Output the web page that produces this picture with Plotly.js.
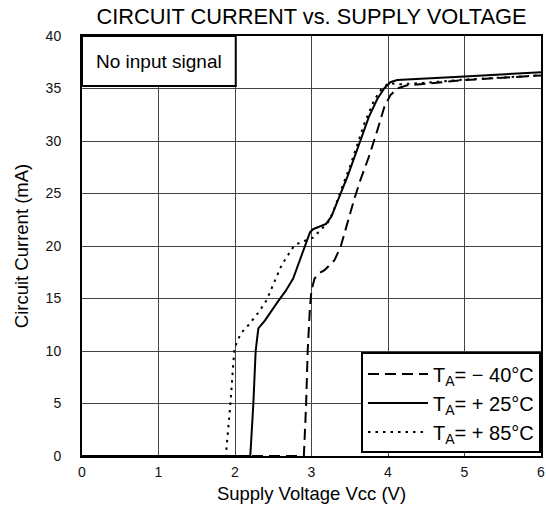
<!DOCTYPE html>
<html>
<head>
<meta charset="utf-8">
<script src="https://cdn.plot.ly/plotly-3.0.1.min.js"></script>
<style>html,body{margin:0;padding:0;background:#fff;}#chart{width:546px;height:510px;}</style>
</head>
<body>
<div id="chart"></div>
<script>
// Supply voltage (V) / circuit current (mA)
const vM40 = [0, 2.90, 2.93, 2.95, 2.98, 3.00, 3.04, 3.10, 3.17, 3.30, 3.38, 3.43, 3.49, 3.56, 3.64, 3.75, 3.86, 3.95, 4.03, 4.12, 4.25, 5.00, 6.00];
const iM40 = [0, 0, 5, 10, 14.2, 15.8, 16.9, 17.4, 17.7, 18.65, 19.9, 21.2, 22.8, 24.5, 26.3, 28.5, 31.0, 33.2, 34.35, 35.0, 35.3, 35.8, 36.25];

const vP25 = [0, 2.20, 2.24, 2.27, 2.305, 2.39, 2.56, 2.66, 2.76, 2.85, 2.93, 2.98, 3.02, 3.10, 3.19, 3.26, 3.32, 3.36, 3.43, 3.47, 3.58, 3.67, 3.75, 3.86, 3.95, 4.03, 4.12, 5.00, 6.00];
const iP25 = [0, 0, 5, 10, 12.15, 12.9, 14.7, 15.7, 16.9, 18.7, 20.3, 21.3, 21.6, 21.8, 22.1, 22.8, 23.9, 24.8, 25.9, 26.6, 28.8, 30.7, 32.3, 34.0, 35.0, 35.6, 35.8, 36.15, 36.55];

const vP85 = [0, 1.88, 1.94, 1.99, 2.02, 2.08, 2.18, 2.31, 2.41, 2.52, 2.61, 2.69, 2.78, 2.93, 3.02, 3.13, 3.22, 3.28, 3.34, 3.41, 3.50, 3.58, 3.69, 3.82, 3.92, 4.01, 4.15, 4.50, 5.00, 6.00];
const iP85 = [0, 0, 5, 10, 10.8, 11.7, 12.5, 13.7, 14.8, 16.6, 18.2, 19.1, 20.1, 20.55, 20.8, 21.6, 22.3, 23.2, 24.5, 25.8, 27.5, 29.3, 31.65, 33.9, 35.0, 35.5, 35.4, 35.55, 35.85, 36.25];

const seriesNames = ['T<sub>A</sub>= \u2212 40\u00b0C', 'T<sub>A</sub>= + 25\u00b0C', 'T<sub>A</sub>= + 85\u00b0C'];
const xTicks = [0, 1, 2, 3, 4, 5, 6];
const yTicks = [0, 5, 10, 15, 20, 25, 30, 35, 40];

const FONT = 'Liberation Sans, Arial, sans-serif';

const traces = [
  {x: vM40, y: iM40, name: seriesNames[0], mode: 'lines', line: {color: '#000', width: 2, dash: '11px,6px'}},
  {x: vP25, y: iP25, name: seriesNames[1], mode: 'lines', line: {color: '#000', width: 2}},
  {x: vP85, y: iP85, name: seriesNames[2], mode: 'lines', line: {color: '#000', width: 2, dash: '2.5px,5px'}}
];

const layout = {
  width: 546, height: 510,
  margin: {l: 82, r: 5, t: 35.5, b: 54, pad: 0},
  paper_bgcolor: '#fff', plot_bgcolor: '#fff',
  font: {family: FONT, color: '#000'},
  showlegend: true,
  title: {text: 'CIRCUIT CURRENT vs. SUPPLY VOLTAGE', font: {family: FONT, size: 21.8, color: '#000'},
          x: 0.5, xref: 'paper', y: 1 - 16/510, yref: 'container', yanchor: 'middle'},
  xaxis: {
    range: [0, 6], tickvals: xTicks, ticktext: xTicks.map(String),
    showgrid: true, gridcolor: '#444', gridwidth: 1,
    showline: true, linecolor: '#000', linewidth: 2, mirror: true,
    zeroline: false, ticks: '', ticklabelstandoff: 2, ticklabeloverflow: 'allow',
    tickfont: {family: FONT, size: 14, color: '#111'},
    title: {text: 'Supply Voltage Vcc (V)', font: {family: FONT, size: 18.5, color: '#000'}, standoff: 8}
  },
  yaxis: {
    range: [0, 40], tickvals: yTicks, ticktext: yTicks.map(String),
    showgrid: true, gridcolor: '#444', gridwidth: 1,
    showline: true, linecolor: '#000', linewidth: 2, mirror: true,
    zeroline: false, ticks: '', ticklabelstandoff: 16,
    tickfont: {family: FONT, size: 14, color: '#111'},
    title: {text: 'Circuit Current (mA)', font: {family: FONT, size: 18.5, color: '#000'}, standoff: 12}
  },
  legend: {
    x: 1, xanchor: 'right', y: 0.006, yanchor: 'bottom',
    bgcolor: '#fff', bordercolor: '#000', borderwidth: 2,
    font: {family: FONT, size: 20, color: '#000'},
    itemwidth: 60, tracegroupgap: 0
  },
  shapes: [
    {type: 'rect', xref: 'x', yref: 'y', x0: 0, x1: 2.01, y0: 35.25, y1: 40,
     line: {color: '#000', width: 2}, fillcolor: '#fff', layer: 'above'}
  ],
  annotations: [
    {text: 'No input signal', xref: 'x', yref: 'y', x: 1.005, y: 37.6,
     showarrow: false, xanchor: 'center', yanchor: 'middle',
     font: {family: FONT, size: 19, color: '#000'}}
  ]
};

Plotly.newPlot('chart', traces, layout, {displayModeBar: false, staticPlot: true});
</script>
</body>
</html>
